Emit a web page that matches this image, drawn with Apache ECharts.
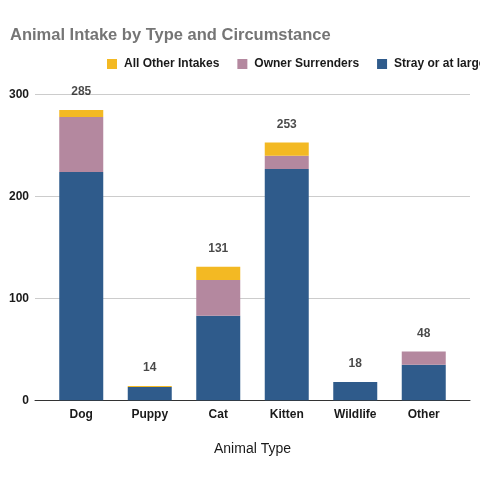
<!DOCTYPE html>
<html>
<head>
<meta charset="utf-8">
<script src="https://cdn.jsdelivr.net/npm/echarts@6/dist/echarts.min.js"></script>
<style>
html, body { margin: 0; padding: 0; background: #fff; }
#chart { width: 480px; height: 480px; }
</style>
</head>
<body>
<div id="chart"></div>
<script>
// data
var animalTypes = ['Dog', 'Puppy', 'Cat', 'Kitten', 'Wildlife', 'Other'];
var strayAtLarge = [224, 13, 83, 227, 18, 35];
var ownerSurrenders = [54, 0, 35, 13, 0, 13];
var allOtherIntakes = [7, 1, 13, 13, 0, 0];
var totals = [285, 14, 131, 253, 18, 48];
var yTicks = [0, 100, 200, 300];

var font = 'Liberation Sans, Arial, sans-serif';
var myChart = echarts.init(document.getElementById('chart'));

myChart.setOption({
	animation: false,
	title: {
		text: 'Animal Intake by Type and Circumstance',
		left: 5,
		top: 22,
		textStyle: { color: '#757575', fontSize: 16.5, fontWeight: 'bold', fontFamily: font }
	},
	legend: {
		data: ['All Other Intakes', 'Owner Surrenders', 'Stray or at large'],
		left: 102,
		top: 53,
		width: 700,
		itemWidth: 10,
		itemHeight: 10,
		itemGap: 18,
		icon: 'rect',
		textStyle: { color: '#1a1a1a', fontSize: 12, fontWeight: 'bold', fontFamily: font, padding: [0, 0, 0, 2] }
	},
	grid: [
		{ left: 35, right: 10, top: 94.7, bottom: 79.7 },
		{ left: 47, right: 22, top: 94.7, bottom: 79.7 }
	],
	xAxis: [
		{
			type: 'value', gridIndex: 0, min: 0, max: 1,
			axisLabel: { show: false }, splitLine: { show: false }, axisTick: { show: false },
			axisLine: { show: true, onZero: false, lineStyle: { color: '#333', width: 1 } }
		},
		{
			type: 'category', gridIndex: 1, data: animalTypes,
			name: 'Animal Type', nameLocation: 'middle', nameGap: 42,
			nameTextStyle: { color: '#1a1a1a', fontSize: 14, fontFamily: font },
			axisLine: { show: false }, axisTick: { show: false },
			axisLabel: { color: '#1a1a1a', fontSize: 12, fontWeight: 'bold', fontFamily: font, margin: 8 }
		}
	],
	yAxis: [
		{
			type: 'value', gridIndex: 0, min: yTicks[0], max: yTicks[yTicks.length - 1], interval: 100,
			axisLine: { show: false }, axisTick: { show: false },
			axisLabel: { color: '#1a1a1a', fontSize: 12, fontWeight: 'bold', fontFamily: font, margin: 6 },
			splitLine: { lineStyle: { color: '#ccc', width: 1 } }
		},
		{
			type: 'value', gridIndex: 1, min: yTicks[0], max: yTicks[yTicks.length - 1], interval: 100,
			axisLine: { show: false }, axisTick: { show: false },
			axisLabel: { show: false }, splitLine: { show: false }
		}
	],
	series: [
		{
			name: 'Stray or at large', type: 'bar', stack: 'intake', xAxisIndex: 1, yAxisIndex: 1,
			barWidth: 44, data: strayAtLarge, itemStyle: { color: '#2f5b8b' }
		},
		{
			name: 'Owner Surrenders', type: 'bar', stack: 'intake', xAxisIndex: 1, yAxisIndex: 1,
			barWidth: 44, data: ownerSurrenders, itemStyle: { color: '#b4889f' }
		},
		{
			name: 'All Other Intakes', type: 'bar', stack: 'intake', xAxisIndex: 1, yAxisIndex: 1,
			barWidth: 44, data: allOtherIntakes, itemStyle: { color: '#f3b923' }
		},
		{
			name: 'total', type: 'scatter', xAxisIndex: 1, yAxisIndex: 1,
			symbolSize: 0, data: totals, silent: true,
			label: {
				show: true, position: 'top', distance: 12,
				color: '#1a1a1a', fontSize: 12, fontWeight: 'bold', fontFamily: font
			}
		}
	]
});
</script>
</body>
</html>
